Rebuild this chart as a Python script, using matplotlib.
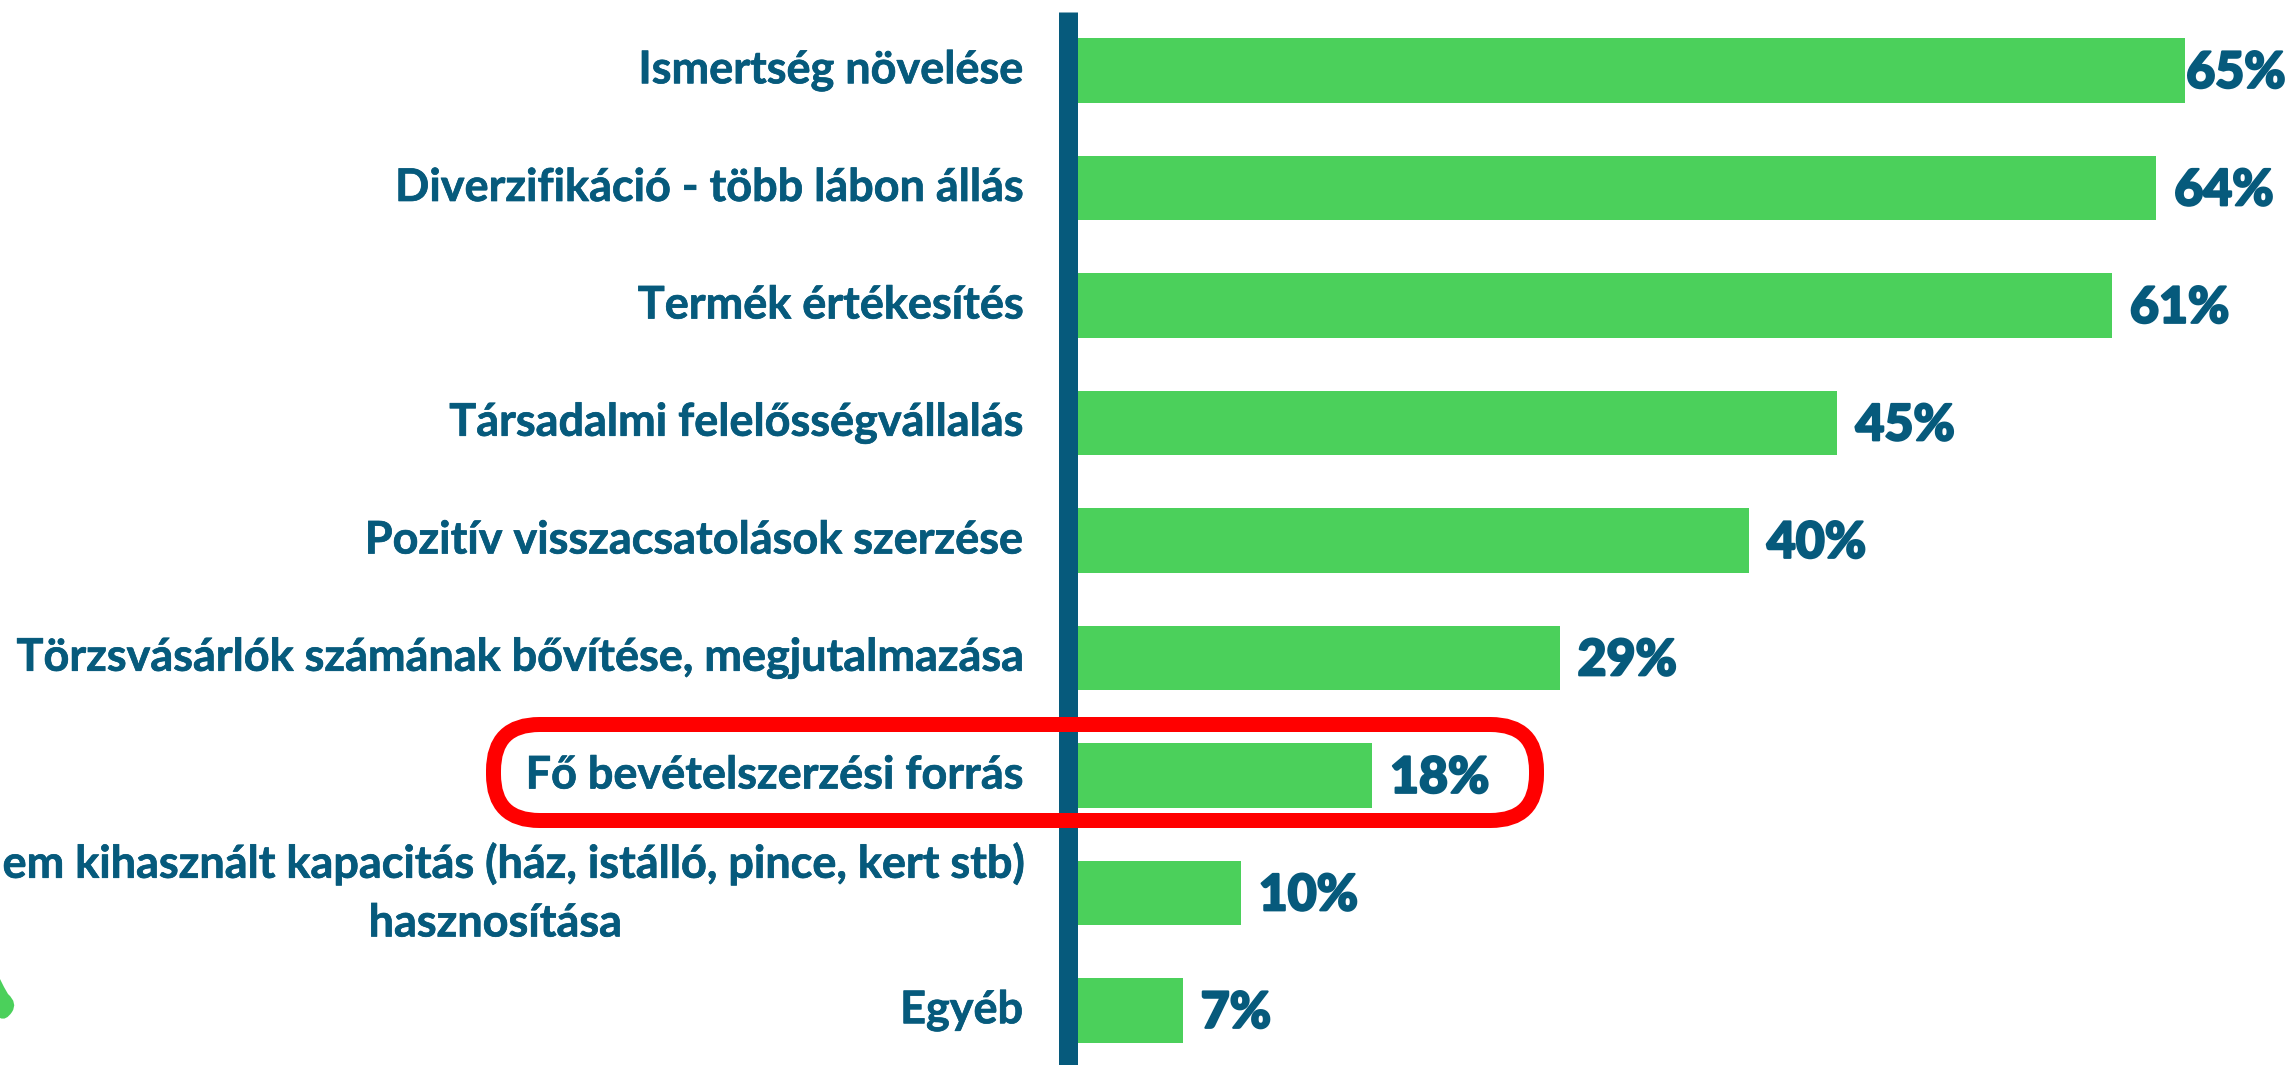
import matplotlib
matplotlib.use("Agg")
import matplotlib.pyplot as plt
import matplotlib.patheffects as pe
from matplotlib.patches import FancyBboxPatch, PathPatch
from matplotlib.path import Path
from matplotlib.transforms import IdentityTransform

categories = [
    "Ismertség növelése",
    "Diverzifikáció - több lábon állás",
    "Termék értékesítés",
    "Társadalmi felelősségvállalás",
    "Pozitív visszacsatolások szerzése",
    "Törzsvásárlók számának bővítése, megjutalmazása",
    "Fő bevételszerzési forrás",
    "Nem kihasznált kapacitás (ház, istálló, pince, kert stb)\nhasznosítása",
    "Egyéb",
]
bar_values = [65.0, 63.3, 60.7, 44.6, 39.4, 28.3, 17.3, 9.6, 6.2]
value_labels = ["65%", "64%", "61%", "45%", "40%", "29%", "18%", "10%", "7%"]

W, H = 2295, 1065
BLUE = "#065a7c"
GREEN = "#4bd05b"
RED = "#ff0000"
X0 = 1077

fig = plt.figure(figsize=(W / 100, H / 100), dpi=100, facecolor="white")
ax = fig.add_axes([X0 / W, 0, (W - X0) / W, (H - 12) / H])
ax.barh(range(len(categories)), bar_values, height=0.545, color=GREEN)
ax.set_xlim(0, (W - X0) / 17.05)
ax.set_ylim((1065 - 70.5) / 117.5, (12 - 70.5) / 117.5)
ax.set_xticks([])
ax.set_yticks([])
ax.patch.set_alpha(0)
for s in ["top", "right", "bottom"]:
    ax.spines[s].set_visible(False)
ax.spines["left"].set_linewidth(19 * 0.72)
ax.spines["left"].set_color(BLUE)
ax.spines["left"].set_position(("outward", 9.5 * 0.72))
ax.spines["left"].set_capstyle("butt")

for i, cat in enumerate(categories):
    ax.annotate(cat, (0, i), xytext=(-54 * 0.72, 0), textcoords="offset points",
                va="center", ha="right", ma="center", fontfamily="Lato",
                fontweight="bold", fontsize=32.4, color=BLUE, linespacing=1.49,
                annotation_clip=False,
                path_effects=[pe.withStroke(linewidth=0.5, foreground=BLUE)])

for i, (v, lab) in enumerate(zip(bar_values, value_labels)):
    off = 0 if i == 0 else 17
    ax.annotate(lab, (v, i), xytext=((off + 1) * 0.72, -2), textcoords="offset points",
                va="center", ha="left", fontfamily="Lato", fontweight="black",
                fontsize=36, color=BLUE, annotation_clip=False,
                path_effects=[pe.withStroke(linewidth=1.6, foreground=BLUE)])

# highlight frame around the "main income" row (pixel coordinates)
box = FancyBboxPatch((493.5 + 46, H - 820.5 + 46), 1536.5 - 493.5 - 92, 820.5 - 724.5 - 92,
                     boxstyle="round,pad=46,rounding_size=46", transform=IdentityTransform(),
                     fc="none", ec=RED, lw=15 * 0.72, zorder=10)
fig.add_artist(box)

# decoration fragment cut off by the left edge
blob = Path([(0, H - 979), (4, H - 987), (8, H - 994), (18, H - 1003), (12, H - 1012),
             (6, H - 1021), (0, H - 1018), (0, H - 979)],
            [Path.MOVETO, Path.LINETO, Path.LINETO, Path.CURVE3, Path.CURVE3,
             Path.CURVE3, Path.CURVE3, Path.CLOSEPOLY])
fig.add_artist(PathPatch(blob, transform=IdentityTransform(), fc=GREEN, ec="none"))

fig.savefig("out.png", dpi=100, facecolor="white")
